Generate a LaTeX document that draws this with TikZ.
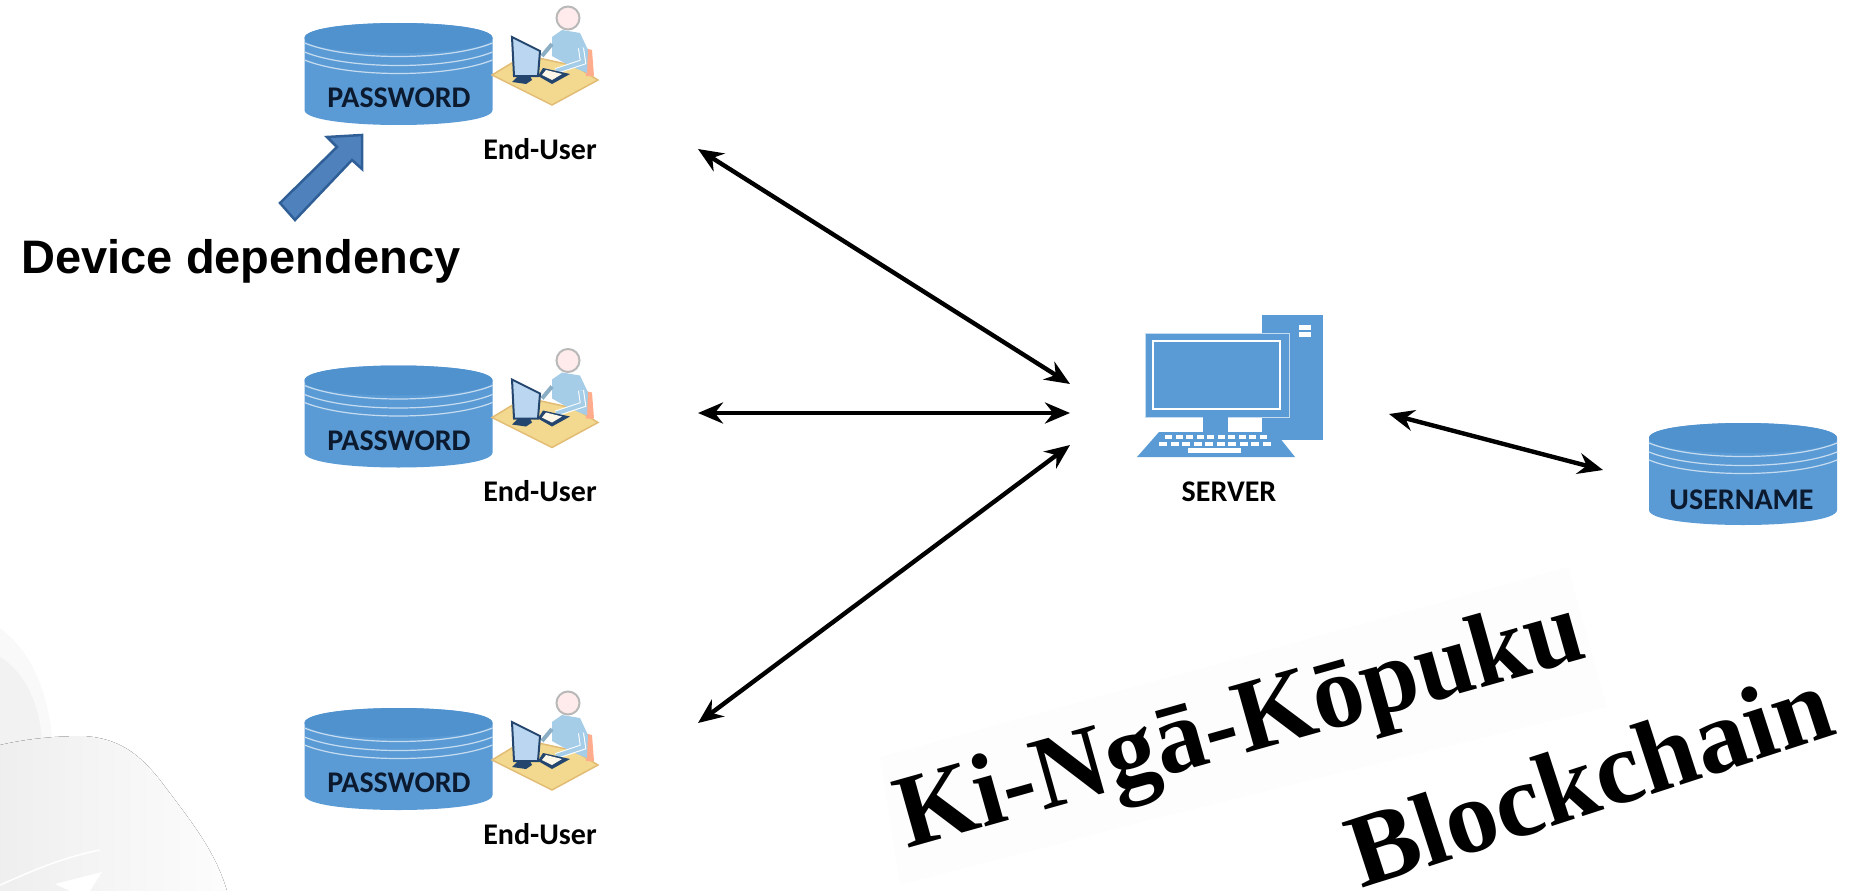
\documentclass[tikz,border=0pt]{standalone}
\usepackage{fontspec}
\usepackage{graphicx}
\setmainfont{Carlito}
\newfontfamily\arialfont{Liberation Sans}
\newfontfamily\timesfont{Liberation Serif}
\usetikzlibrary{arrows.meta}
\definecolor{dbblue}{HTML}{5B9BD5}
\definecolor{dbtop}{HTML}{5092CE}
\definecolor{dbline}{HTML}{C5DCF0}
\definecolor{dbtext}{HTML}{0C1A30}
\definecolor{blockfill}{HTML}{4F81BD}
\definecolor{blockedge}{HTML}{2F5F96}
\definecolor{deskfill}{HTML}{F3D98F}
\definecolor{deskedge}{HTML}{E2BC74}
\definecolor{bodyblue}{HTML}{A5CDE8}
\definecolor{screenblue}{HTML}{BBD6F0}
\definecolor{framedark}{HTML}{24466E}
\definecolor{pastebox}{HTML}{FDFDFD}
\tikzset{
  dblabel/.style={font=\fontsize{30}{32}\selectfont\bfseries, text=dbtext, inner sep=0pt},
  userlabel/.style={font=\fontsize{30}{32}\selectfont\bfseries, text=black, inner sep=0pt},
  bigtext/.style={font=\timesfont\fontsize{104}{108}\selectfont\bfseries, text=black, inner sep=0pt, anchor=base west},
  link/.style={<->, line width=4.4pt},
  dbcyl/.pic={
    \fill[dbblue] (-94,0) -- (-94,72) .. controls (-94,92) and (94,92) .. (94,72) -- (94,0)
      .. controls (94,-20) and (-94,-20) .. (-94,0) -- cycle;
    \fill[dbtop] (-94,0) .. controls (-94,-20) and (94,-20) .. (94,0)
      .. controls (94,20) and (-94,20) .. (-94,0) -- cycle;
    \foreach \dy in {5,14,22}
      \draw[dbline, line width=1.2pt] (-94,\dy) .. controls (-50,{\dy+18}) and (50,{\dy+18}) .. (94,\dy);
  },
  usericon/.pic={
    % desk and chair
    \fill[fill=deskfill, draw=deskedge, line width=1.5pt] (492,75) -- (525,55) -- (575,66) -- (598,80) -- (552,105) -- cycle;
    \fill[red!45!orange!45] (584,48) -- (592,50) -- (594,76) -- (586,76) -- cycle;
    % person
    \fill[bodyblue] (552,37) -- (562,30) -- (580,33) -- (588,50) -- (587,73) -- (570,66) -- (552,56) -- cycle;
    \fill[fill=red!8!white, draw=gray!55, line width=2pt] (568,18) circle (11.5);
    \draw[bodyblue!85!black, line width=4pt] (552,44) -- (542,56);
    \draw[white, line width=6pt] (581,48) -- (583,62) -- (556,71);
    \draw[bodyblue, line width=4pt] (581,48) -- (583,62) -- (556,71);
    % monitor and keyboard
    \fill[framedark] (543,68) -- (570,74) -- (552,84) -- (538,76) -- cycle;
    \fill[white!80!deskfill] (546,70) -- (562,74) -- (552,80) -- (542,75) -- cycle;
    \fill[fill=screenblue, draw=framedark, line width=2pt] (512,37) -- (540,51) -- (538,76) -- (514,76) -- cycle;
    \fill[framedark] (518,76) -- (530,76) -- (532,80) -- (526,84) -- (512,82) -- cycle;
  },
}
\begin{document}
\begin{tikzpicture}[x=1pt, y=-1pt, >={Stealth[length=25pt,width=21pt]}]
  \useasboundingbox (0,0) rectangle (1865,891);

  % Background swirl
  \fill[gray!5] (0,628) .. controls (30,650) and (48,690) .. (52,738) -- (0,760) -- cycle;
  \fill[gray!10] (0,657) .. controls (24,672) and (38,700) .. (42,738) -- (0,760) -- cycle;
  \fill[left color=gray!13, right color=gray!2] (0,745) .. controls (30,738) and (60,736) .. (83,736)
    .. controls (120,738) and (140,755) .. (160,780) .. controls (190,820) and (215,850) .. (227,891) -- (0,891) -- cycle;
  \draw[white, line width=1.5pt] (0,885) .. controls (30,872) and (60,858) .. (100,850);
  \fill[white] (55,884) -- (102,872) -- (90,891) -- (70,891) -- cycle;

  % Faint box behind the first title
  \fill[pastebox] (880,757) -- (1568,567) -- (1607,707) -- (1150,820) -- (900,885) -- cycle;

  % End users with password stores
  \foreach \row/\yy in {1/0, 2/342.5, 3/685} {
    \pic at (398.5,{38+\yy}) {dbcyl};
    \node[dblabel] (pw\row) at (399,{98+\yy}) {PASSWORD};
    \pic at (0,\yy) {usericon};
    \node[userlabel] (user\row) at (540,{149+\yy}) {End-User};
  }

  % Server
  \fill[dbblue] (1262,315) rectangle (1323,440);
  \fill[white] (1299,325) rectangle (1311,330);
  \fill[white] (1299,332) rectangle (1311,337);
  \fill[dbblue, draw=dbline, line width=1pt] (1145,333) rectangle (1289,417);
  \draw[white, line width=1.3pt] (1153,341) rectangle (1280,409);
  \fill[dbblue] (1203,417) rectangle (1228,432);
  \fill[dbblue] (1159,432) -- (1275,432) -- (1295,457) -- (1137,457) -- cycle;
  \foreach \kx in {0,...,9} {
    \fill[white] ({1165+\kx*10.5},435) rectangle ({1172+\kx*10.5},438.5);
    \fill[white] ({1159+\kx*11.5},442) rectangle ({1167+\kx*11.5},446);
  }
  \fill[white] (1188,448) rectangle (1241,453);
  \node[userlabel] (srv) at (1229,492) {SERVER};

  % Username store
  \pic at (1743,438) {dbcyl};
  \node[dblabel] (uname) at (1741.5,500) {USERNAME};

  % Link ends
  \coordinate (user1port) at (698,149);
  \coordinate (user2port) at (698,413);
  \coordinate (user3port) at (698,723);
  \coordinate (srvport1) at (1070,384);
  \coordinate (srvport2) at (1070,413);
  \coordinate (srvport3) at (1070,445);
  \coordinate (srvport4) at (1389,414);
  \coordinate (unameport) at (1603,470);
  \draw[link] (user1port) -- (srvport1);
  \draw[link] (user2port) -- (srvport2);
  \draw[link] (user3port) -- (srvport3);
  \draw[link] (srvport4) -- (unameport);

  % Block arrow
  \filldraw[fill=blockfill, draw=blockedge, line width=2.5pt, line join=miter]
    (280,203) -- (337,147) -- (327,137) -- (362,135) -- (362,169) -- (352,160) -- (295,220) -- cycle;
  \node[font=\arialfont\fontsize{47}{50}\selectfont\bfseries, inner sep=0pt] (devdep) at (241,261) {Device dependency};

  % Slanted titles
  \node[bigtext, rotate=15.7] (kinga) at (907,849) {\scalebox{.98}[1]{Ki-Ngā-Kōpuku}};
  \node[bigtext, rotate=18] (bchain) at (1361,889) {\scalebox{1.01}[1]{Blockchain}};
\end{tikzpicture}
\end{document}
